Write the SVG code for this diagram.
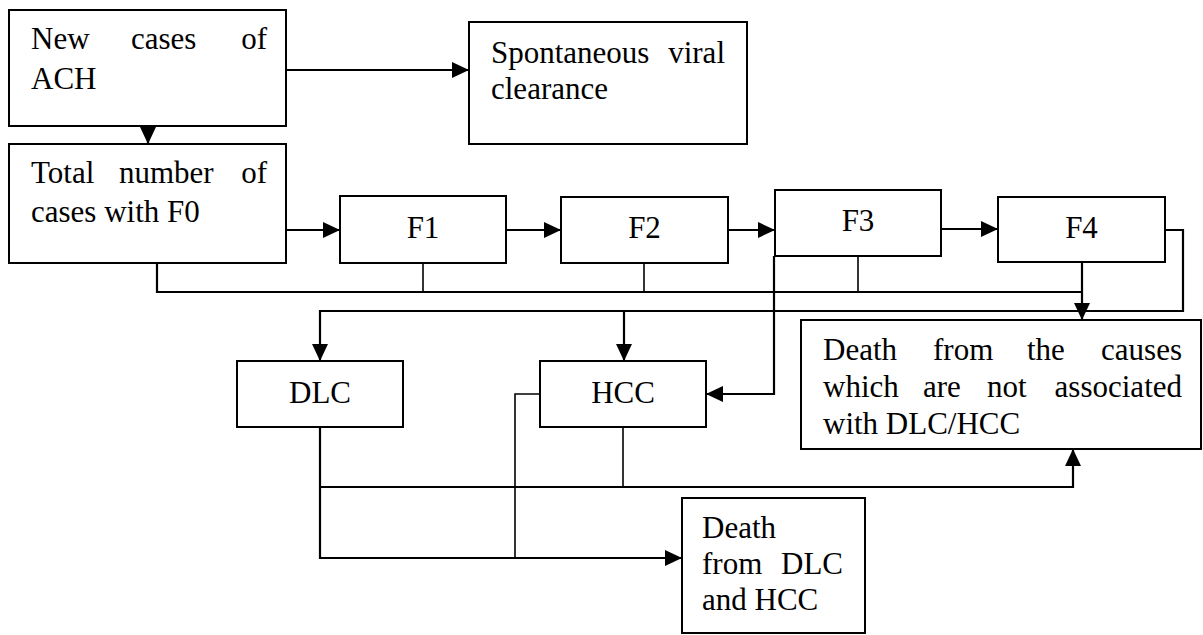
<svg xmlns="http://www.w3.org/2000/svg" width="1203" height="635" viewBox="0 0 1203 635">
<style>
.box{fill:#fff;stroke:#000;stroke-width:2}
.t{font-family:"Liberation Serif","Times New Roman",serif;font-size:31px;fill:#000}
.c{text-anchor:middle}
.e{text-anchor:end}
.ln{fill:none;stroke:#000;stroke-width:2.2}
.thin{fill:none;stroke:#000;stroke-width:1.6}
</style>
<defs>
<marker id="arr" markerUnits="userSpaceOnUse" markerWidth="18" markerHeight="16" refX="17" refY="8" orient="auto">
<path d="M0,0 L17,8 L0,16 z" fill="#000"/>
</marker>
</defs>
<rect width="1203" height="635" fill="#fff"/>
<g id="connectors">
<line class="ln" x1="148" y1="126" x2="148" y2="144" marker-end="url(#arr)"/>
<line class="ln" x1="286" y1="70" x2="469" y2="70" marker-end="url(#arr)"/>
<line class="ln" x1="286" y1="230" x2="340" y2="230" marker-end="url(#arr)"/>
<line class="ln" x1="506" y1="230" x2="561" y2="230" marker-end="url(#arr)"/>
<line class="ln" x1="728" y1="230" x2="775" y2="230" marker-end="url(#arr)"/>
<line class="ln" x1="941" y1="229" x2="998" y2="229" marker-end="url(#arr)"/>
<polyline class="ln" points="1165,230 1183,230 1183,311 320,311 320,361" marker-end="url(#arr)"/>
<line class="ln" x1="624" y1="311" x2="624" y2="361" marker-end="url(#arr)"/>
<polyline class="ln" points="157,263 157,292 1082,292"/>
<line class="thin" x1="423" y1="263" x2="423" y2="292"/>
<line class="thin" x1="644" y1="263" x2="644" y2="292"/>
<line class="thin" x1="858" y1="256" x2="858" y2="292"/>
<line class="ln" x1="1082" y1="262" x2="1082" y2="320" marker-end="url(#arr)"/>
<polyline class="ln" points="774,256 774,394 706,394" marker-end="url(#arr)"/>
<polyline class="ln" points="320,427 320,558 682,558" marker-end="url(#arr)"/>
<polyline class="thin" points="540,394 515,394 515,558"/>
<polyline class="ln" points="320,487 1073,487 1073,449" marker-end="url(#arr)"/>
<line class="thin" x1="623" y1="427" x2="623" y2="487"/>
</g>
<g id="node-ach">
<rect class="box" x="9" y="10" width="277" height="116"/>
<text class="t" x="31" y="49">New</text>
<text class="t" x="131" y="49">cases</text>
<text class="t e" x="267" y="49">of</text>
<text class="t" x="31" y="89">ACH</text>
</g>
<g id="node-f0">
<rect class="box" x="9" y="144" width="277" height="119"/>
<text class="t" x="31" y="183">Total</text>
<text class="t" x="119" y="183">number</text>
<text class="t e" x="267" y="183">of</text>
<text class="t" x="31" y="222">cases with F0</text>
</g>
<g id="node-clearance">
<rect class="box" x="469" y="22" width="278" height="122"/>
<text class="t" x="491" y="63">Spontaneous</text>
<text class="t e" x="725" y="63">viral</text>
<text class="t" x="491" y="99">clearance</text>
</g>
<g id="node-f1">
<rect class="box" x="340" y="196" width="166" height="67"/>
<text class="t c" x="423" y="238">F1</text>
</g>
<g id="node-f2">
<rect class="box" x="561" y="197" width="167" height="66"/>
<text class="t c" x="644.5" y="238">F2</text>
</g>
<g id="node-f3">
<rect class="box" x="775" y="190" width="166" height="66"/>
<text class="t c" x="858" y="231">F3</text>
</g>
<g id="node-f4">
<rect class="box" x="998" y="197" width="167" height="65"/>
<text class="t c" x="1081.5" y="238">F4</text>
</g>
<g id="node-dlc">
<rect class="box" x="237" y="361" width="166" height="66"/>
<text class="t c" x="320" y="403">DLC</text>
</g>
<g id="node-hcc">
<rect class="box" x="540" y="361" width="166" height="66"/>
<text class="t c" x="623" y="403">HCC</text>
</g>
<g id="node-other-death">
<rect class="box" x="801" y="320" width="400" height="129"/>
<text class="t" x="823" y="360">Death</text>
<text class="t" x="933" y="360">from</text>
<text class="t" x="1027" y="360">the</text>
<text class="t e" x="1182" y="360">causes</text>
<text class="t" x="823" y="397">which</text>
<text class="t" x="923" y="397">are</text>
<text class="t" x="987" y="397">not</text>
<text class="t e" x="1182" y="397">associated</text>
<text class="t" x="823" y="434">with DLC/HCC</text>
</g>
<g id="node-dlc-hcc-death">
<rect class="box" x="682" y="498" width="183" height="135"/>
<text class="t" x="702" y="538">Death</text>
<text class="t" x="702" y="574">from</text>
<text class="t e" x="843" y="574">DLC</text>
<text class="t" x="702" y="610">and HCC</text>
</g>
</svg>
